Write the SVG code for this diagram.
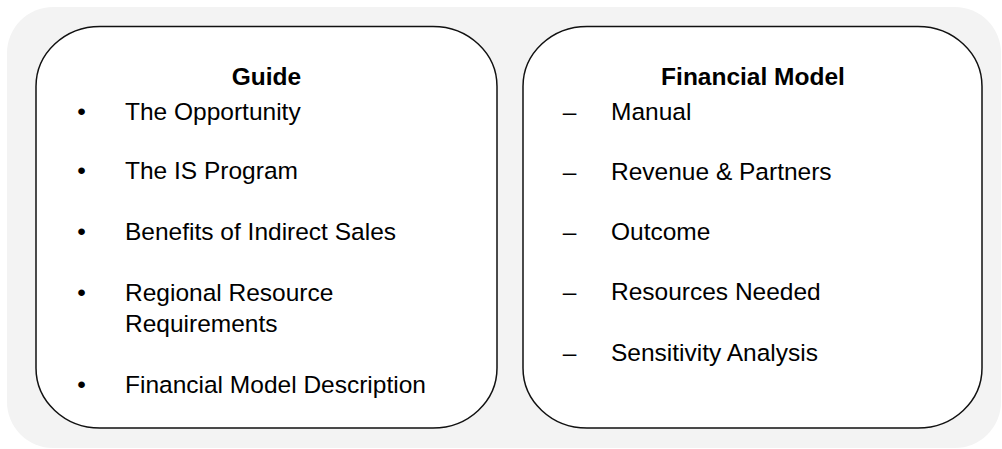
<svg xmlns="http://www.w3.org/2000/svg" width="1002" height="449" viewBox="0 0 1002 449">
<style>
.box{fill:#ffffff;stroke:#111111;stroke-width:1.5}
.t{font-family:"Liberation Sans",Arial,sans-serif;font-size:24.5px;fill:#000000}
.h{font-weight:bold;text-anchor:middle}
.m{text-anchor:middle}
</style>
<rect x="0" y="0" width="1002" height="449" fill="#ffffff"/>
<rect id="background" x="7" y="7" width="994" height="441" rx="46" ry="46" fill="#f3f3f3"/>
<g id="guide">
<rect class="box" x="36" y="26.5" width="461" height="401.5" rx="64" ry="60"/>
<text class="t h" x="266.5" y="85">Guide</text>
<text class="t m" x="81.5" y="120">•</text><text class="t" x="125" y="120">The Opportunity</text>
<text class="t m" x="81.5" y="179">•</text><text class="t" x="125" y="179">The IS Program</text>
<text class="t m" x="81.5" y="240">•</text><text class="t" x="125" y="240">Benefits of Indirect Sales</text>
<text class="t m" x="81.5" y="301">•</text><text class="t" x="125" y="301">Regional Resource</text>
<text class="t" x="125" y="332">Requirements</text>
<text class="t m" x="81.5" y="393">•</text><text class="t" x="125" y="393">Financial Model Description</text>
</g>
<g id="financial-model">
<rect class="box" x="523" y="26.5" width="459" height="401.5" rx="64" ry="60"/>
<text class="t h" x="753" y="85">Financial Model</text>
<text class="t m" x="569.5" y="120">–</text><text class="t" x="611" y="120">Manual</text>
<text class="t m" x="569.5" y="180">–</text><text class="t" x="611" y="180">Revenue &amp; Partners</text>
<text class="t m" x="569.5" y="240">–</text><text class="t" x="611" y="240">Outcome</text>
<text class="t m" x="569.5" y="300">–</text><text class="t" x="611" y="300">Resources Needed</text>
<text class="t m" x="569.5" y="361">–</text><text class="t" x="611" y="361">Sensitivity Analysis</text>
</g>
<g id="connectors"></g>
</svg>
